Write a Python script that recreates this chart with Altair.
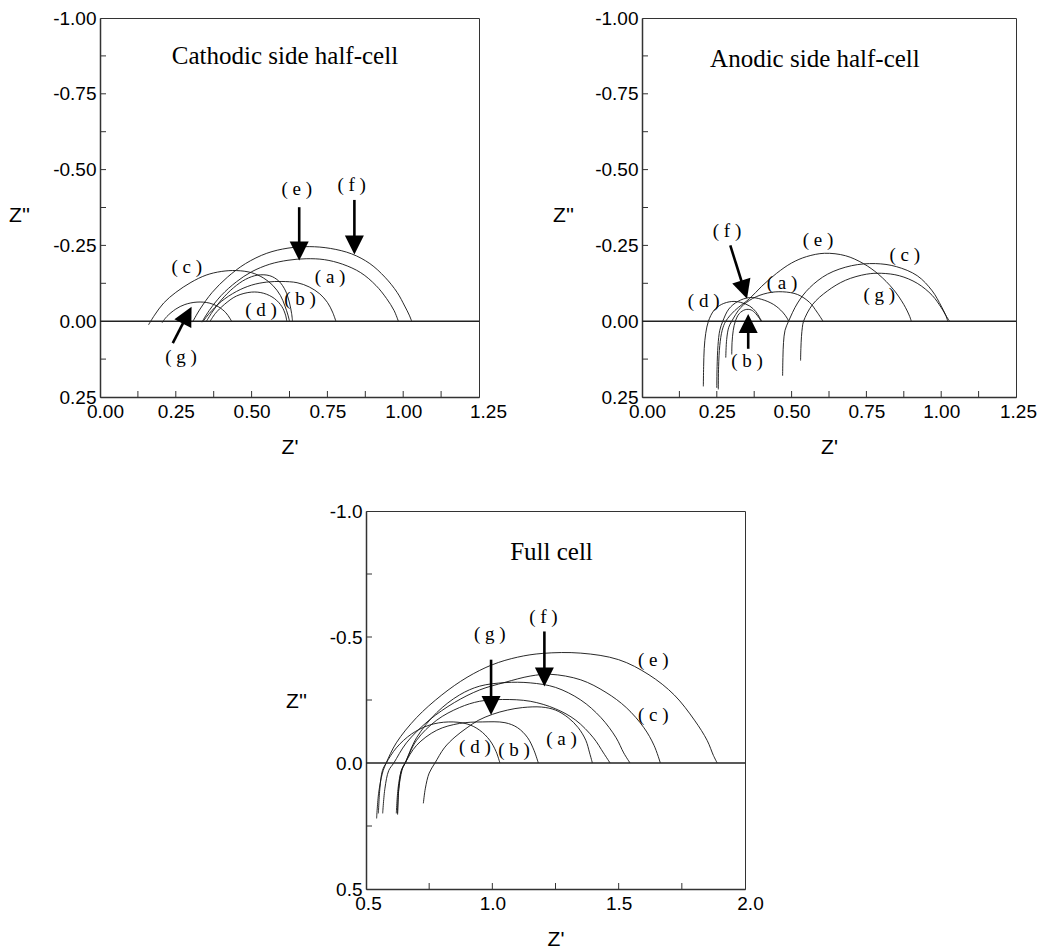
import math
import altair as alt
import pandas as pd

# ---------------- data ----------------
# Cathodic side half-cell  (Z', Z'')
cath_a = [(0.338, 0.003), (0.36, -0.025), (0.40, -0.065), (0.45, -0.098), (0.50, -0.119), (0.55, -0.129),
          (0.60, -0.131), (0.65, -0.127), (0.69, -0.113), (0.725, -0.090), (0.75, -0.062), (0.767, -0.030), (0.778, 0.0)]
cath_b = [(0.350, 0.002), (0.37, -0.030), (0.40, -0.070), (0.44, -0.110), (0.48, -0.138), (0.52, -0.152),
          (0.56, -0.150), (0.59, -0.132), (0.612, -0.100), (0.625, -0.060), (0.632, -0.025), (0.635, 0.0)]
cath_c = [(0.160, 0.012), (0.18, -0.020), (0.21, -0.060), (0.25, -0.095), (0.30, -0.128), (0.35, -0.152),
          (0.40, -0.164), (0.45, -0.167), (0.50, -0.160), (0.54, -0.142), (0.57, -0.118), (0.595, -0.085),
          (0.61, -0.050), (0.62, -0.020), (0.625, 0.0)]
cath_d = [(0.362, 0.002), (0.38, -0.025), (0.41, -0.055), (0.45, -0.083), (0.50, -0.096), (0.54, -0.092),
          (0.575, -0.075), (0.60, -0.048), (0.612, -0.020), (0.616, 0.0)]
cath_e = [(0.336, 0.003), (0.36, -0.035), (0.40, -0.085), (0.45, -0.130), (0.50, -0.163), (0.56, -0.188),
          (0.62, -0.201), (0.68, -0.206), (0.74, -0.203), (0.80, -0.188), (0.86, -0.160), (0.91, -0.118),
          (0.945, -0.075), (0.97, -0.035), (0.984, 0.0)]
cath_f = [(0.305, 0.003), (0.33, -0.040), (0.37, -0.095), (0.42, -0.145), (0.48, -0.190), (0.55, -0.224),
          (0.62, -0.241), (0.69, -0.246), (0.76, -0.240), (0.83, -0.222), (0.89, -0.190), (0.94, -0.145),
          (0.98, -0.095), (1.005, -0.050), (1.02, -0.020), (1.028, 0.0)]
cath_g = [(0.205, 0.005), (0.22, -0.015), (0.25, -0.040), (0.28, -0.055), (0.32, -0.063), (0.36, -0.060),
          (0.39, -0.048), (0.415, -0.028), (0.428, -0.010), (0.434, 0.0)]

cath_labels = [("( a )", 0.759, -0.145), ("( b )", 0.660, -0.074), ("( c )", 0.286, -0.178),
               ("( d )", 0.531, -0.038), ("( e )", 0.649, -0.437), ("( f )", 0.830, -0.448),
               ("( g )", 0.267, 0.119)]
cath_arrows = [(0.657, -0.376, 0.657, -0.200), (0.839, -0.400, 0.839, -0.220), (0.240, 0.072, 0.302, -0.048)]

# Anodic side half-cell
ano_a = [(0.280, 0.120), (0.283, 0.060), (0.29, 0.020), (0.30, 0.0), (0.33, -0.045), (0.37, -0.075),
         (0.42, -0.093), (0.47, -0.097), (0.52, -0.088), (0.56, -0.062), (0.585, -0.030), (0.605, 0.0)]
ano_b = [(0.300, 0.110), (0.301, 0.070), (0.305, 0.030), (0.312, 0.0), (0.325, -0.025), (0.345, -0.038),
         (0.365, -0.037), (0.380, -0.025), (0.392, -0.010), (0.398, 0.0)]
ano_c = [(0.470, 0.180), (0.471, 0.120), (0.473, 0.070), (0.478, 0.030), (0.49, 0.0), (0.52, -0.060),
         (0.56, -0.110), (0.62, -0.155), (0.70, -0.183), (0.78, -0.190), (0.85, -0.180), (0.92, -0.150),
         (0.97, -0.100), (1.00, -0.050), (1.015, -0.020), (1.022, 0.0)]
ano_d = [(0.205, 0.215), (0.206, 0.150), (0.208, 0.090), (0.213, 0.040), (0.222, 0.0), (0.24, -0.035),
         (0.265, -0.055), (0.30, -0.065), (0.33, -0.062), (0.36, -0.050), (0.38, -0.032), (0.393, -0.012), (0.40, 0.0)]
ano_e = [(0.255, 0.225), (0.256, 0.150), (0.26, 0.080), (0.268, 0.030), (0.28, 0.0), (0.31, -0.035),
         (0.36, -0.075), (0.40, -0.115), (0.45, -0.158), (0.50, -0.192), (0.55, -0.213), (0.61, -0.224),
         (0.68, -0.216), (0.74, -0.190), (0.79, -0.155), (0.84, -0.105), (0.875, -0.055), (0.895, -0.015), (0.90, 0.0)]
ano_f = [(0.250, 0.220), (0.251, 0.150), (0.254, 0.080), (0.26, 0.030), (0.27, 0.0), (0.29, -0.040),
         (0.32, -0.065), (0.36, -0.078), (0.40, -0.072), (0.44, -0.055), (0.47, -0.030), (0.485, -0.010), (0.49, 0.0)]
ano_g = [(0.530, 0.130), (0.531, 0.090), (0.533, 0.050), (0.536, 0.020), (0.54, 0.0), (0.57, -0.055),
         (0.62, -0.100), (0.68, -0.135), (0.75, -0.155), (0.80, -0.158), (0.86, -0.150), (0.92, -0.125),
         (0.97, -0.085), (1.00, -0.045), (1.018, -0.015), (1.028, 0.0)]

ano_labels = [("( a )", 0.468, -0.125), ("( b )", 0.351, 0.130), ("( c )", 0.878, -0.219),
              ("( d )", 0.206, -0.068), ("( e )", 0.588, -0.268), ("( f )", 0.284, -0.299),
              ("( g )", 0.793, -0.085)]
ano_arrows = [(0.295, -0.250, 0.351, -0.074), (0.355, 0.091, 0.355, -0.024)]

# Full cell
full_a = [(0.727, 0.160), (0.735, 0.100), (0.75, 0.040), (0.773, 0.0), (0.81, -0.060), (0.852, -0.103),
          (0.90, -0.140), (0.944, -0.169), (1.00, -0.193), (1.06, -0.210), (1.12, -0.220), (1.195, -0.222),
          (1.25, -0.210), (1.30, -0.180), (1.34, -0.140), (1.37, -0.090), (1.385, -0.040), (1.396, 0.0)]
full_b = [(0.625, 0.200), (0.63, 0.100), (0.64, 0.030), (0.655, 0.0), (0.70, -0.070), (0.78, -0.130),
          (0.87, -0.157), (0.96, -0.163), (1.05, -0.160), (1.10, -0.140), (1.14, -0.100), (1.165, -0.050), (1.182, 0.0)]
full_c = [(0.566, 0.200), (0.575, 0.100), (0.59, 0.030), (0.61, 0.0), (0.66, -0.080), (0.75, -0.170),
          (0.85, -0.240), (0.95, -0.290), (1.05, -0.320), (1.15, -0.345), (1.23, -0.352), (1.35, -0.330),
          (1.45, -0.280), (1.53, -0.220), (1.60, -0.140), (1.64, -0.070), (1.665, 0.0)]
full_d = [(0.549, 0.200), (0.555, 0.100), (0.565, 0.030), (0.58, 0.0), (0.62, -0.060), (0.68, -0.115),
          (0.75, -0.150), (0.826, -0.163), (0.90, -0.155), (0.95, -0.130), (0.99, -0.090), (1.015, -0.045), (1.03, 0.0)]
full_e = [(0.542, 0.220), (0.55, 0.120), (0.565, 0.040), (0.58, 0.0), (0.62, -0.080), (0.70, -0.180),
          (0.80, -0.270), (0.90, -0.340), (1.00, -0.390), (1.10, -0.420), (1.20, -0.435), (1.35, -0.436),
          (1.50, -0.410), (1.62, -0.350), (1.72, -0.270), (1.80, -0.170), (1.85, -0.090), (1.875, -0.030), (1.89, 0.0)]
full_f = [(0.625, 0.205), (0.63, 0.100), (0.645, 0.020), (0.655, 0.0), (0.70, -0.100), (0.78, -0.200),
          (0.87, -0.270), (0.95, -0.305), (1.05, -0.319), (1.15, -0.318), (1.25, -0.300), (1.35, -0.250),
          (1.43, -0.180), (1.49, -0.100), (1.52, -0.040), (1.545, 0.0)]
full_g = [(0.620, 0.200), (0.627, 0.100), (0.64, 0.030), (0.655, 0.0), (0.70, -0.090), (0.78, -0.170),
          (0.87, -0.220), (0.95, -0.245), (1.04, -0.252), (1.15, -0.245), (1.25, -0.215), (1.33, -0.170),
          (1.40, -0.100), (1.44, -0.040), (1.466, 0.0)]

full_labels = [("( a )", 1.274, -0.097), ("( b )", 1.086, -0.053), ("( c )", 1.637, -0.192),
               ("( d )", 0.931, -0.063), ("( e )", 1.637, -0.410), ("( f )", 1.202, -0.579),
               ("( g )", 0.990, -0.513)]
full_arrows = [(0.995, -0.410, 0.995, -0.190), (1.206, -0.522, 1.206, -0.304)]

# axes: label values and inward tick values
half_x_labels = [0.0, 0.25, 0.5, 0.75, 1.0, 1.25]
half_y_labels = [-1.0, -0.75, -0.5, -0.25, 0.0, 0.25]
half_x_ticks = [0.125, 0.25, 0.375, 0.5, 0.625, 0.75, 0.875, 1.0, 1.125]
half_y_ticks = [-0.875, -0.75, -0.625, -0.5, -0.375, -0.25, -0.125, 0.125]
full_x_labels = [0.5, 1.0, 1.5, 2.0]
full_y_labels = [-1.0, -0.5, 0.0, 0.5]
full_x_ticks = [0.75, 1.0, 1.25, 1.5, 1.75]
full_y_ticks = [-0.75, -0.5, -0.25, 0.25]

SANS = "Liberation Sans"
SERIF = "Liberation Serif"
INK = "#111111"
HEAD_PATH = "M0,0L-0.5,1L0.5,1Z"
HEAD_LEN = 19


def curves_df(curves):
    rows = []
    for name, pts in curves.items():
        for i, (x, y) in enumerate(pts):
            rows.append({"curve": name, "i": i, "x": x, "y": y})
    return pd.DataFrame(rows)


def label_expr(fmt):
    return ("datum.value < 0 ? '-' + format(-datum.value, '%s') : format(datum.value, '%s')"
            % (fmt, fmt))


def panel(curves, labels, arrows, title, title_xy, xdom, ydom, xlab, ylab, xt, yt, fmt,
          w, h, ytx, yty, first_off, last_off):
    x_label_offset = {
        "condition": [
            {"test": "datum.value <= %s" % (xdom[0] + 1e-9), "value": first_off},
            {"test": "datum.value >= %s" % (xdom[1] - 1e-9), "value": last_off},
        ],
        "value": 0,
    }
    X = alt.X("x:Q", scale=alt.Scale(domain=xdom, nice=False, zero=False),
              axis=alt.Axis(values=xlab, labelExpr=label_expr(fmt), ticks=False, tickSize=0, grid=False,
                            labelFont=SANS, labelFontSize=19, labelColor="black", labelPadding=5,
                            labelOffset=x_label_offset,
                            labelFlush=False, labelOverlap=False, domainColor="#333333", domainWidth=1.5,
                            title="Z'", titleFont=SANS, titleFontSize=21, titleFontWeight="normal",
                            titleColor="black", titleY=50, titleBaseline="middle"))
    Y = alt.Y("y:Q", scale=alt.Scale(domain=ydom, nice=False, zero=False, reverse=True),
              axis=alt.Axis(values=ylab, labelExpr=label_expr(fmt), ticks=False, tickSize=0, grid=False,
                            labelFont=SANS, labelFontSize=19, labelColor="black", labelPadding=4,
                            labelFlush=False, labelOverlap=False, domainColor="#333333", domainWidth=1.5,
                            title="Z''", titleFont=SANS, titleFontSize=21, titleFontWeight="normal",
                            titleColor="black", titleAngle=0, titleAlign="center",
                            titleBaseline="middle", titleX=ytx, titleY=yty))

    lines = alt.Chart(curves_df(curves)).mark_line(
        interpolate="catmull-rom", strokeWidth=0.9, color=INK
    ).encode(x=X, y=Y, detail="curve:N", order="i:Q")

    zero = alt.Chart(pd.DataFrame({"y": [0.0]})).mark_rule(
        color="#222222", strokeWidth=1.5).encode(y=Y)

    xt_layer = alt.Chart(pd.DataFrame({"x": xt})).mark_rule(color="#333333", strokeWidth=1).encode(
        x=X, y=alt.value(h), y2=alt.value(h - 6))
    yt_layer = alt.Chart(pd.DataFrame({"y": yt})).mark_rule(color="#333333", strokeWidth=1).encode(
        y=Y, x=alt.value(0), x2=alt.value(6))

    lab_df = pd.DataFrame(labels, columns=["t", "x", "y"])
    lab = alt.Chart(lab_df).mark_text(font=SERIF, fontSize=19, color="black",
                                      baseline="middle", align="center").encode(x=X, y=Y, text="t:N")

    ttl = alt.Chart(pd.DataFrame({"t": [title], "x": [title_xy[0]], "y": [title_xy[1]]})).mark_text(
        font=SERIF, fontSize=25, color="black", baseline="middle", align="center"
    ).encode(x=X, y=Y, text="t:N")

    # arrows: compute direction on screen from the panel's scale
    sx = w / (xdom[1] - xdom[0])
    sy = h / (ydom[1] - ydom[0])
    shafts, heads = [], []
    for (x0, y0, x1, y1) in arrows:
        dxp = (x1 - x0) * sx
        dyp = (y1 - y0) * sy  # screen y grows downward with data y
        L = math.hypot(dxp, dyp)
        ang = math.degrees(math.atan2(dxp, -dyp)) % 360
        f = max(0.0, (L - HEAD_LEN * 0.8) / L)
        shafts.append({"x": x0, "y": y0, "x2": x0 + (x1 - x0) * f, "y2": y0 + (y1 - y0) * f})
        heads.append({"x": x1, "y": y1, "angle": ang})
    shaft = alt.Chart(pd.DataFrame(shafts)).mark_rule(color="black", strokeWidth=2.6).encode(
        x=X, y=Y, x2="x2:Q", y2="y2:Q")
    head = alt.Chart(pd.DataFrame(heads)).mark_point(
        shape=HEAD_PATH, filled=True, color="black", opacity=1, size=(2 * HEAD_LEN) ** 2, strokeWidth=0
    ).encode(x=X, y=Y, angle=alt.Angle("angle:Q", scale=None))

    return alt.layer(lines, zero, xt_layer, yt_layer, lab, ttl, shaft, head).properties(width=w, height=h)


p1 = panel({"a": cath_a, "b": cath_b, "c": cath_c, "d": cath_d, "e": cath_e, "f": cath_f, "g": cath_g},
           cath_labels, cath_arrows, "Cathodic side half-cell", (0.61, -0.876),
           [0.0, 1.25], [-1.0, 0.25], half_x_labels, half_y_labels, half_x_ticks, half_y_ticks, ".2f",
           379, 379, -81, 197, 5, 9)
p2 = panel({"a": ano_a, "b": ano_b, "c": ano_c, "d": ano_d, "e": ano_e, "f": ano_f, "g": ano_g},
           ano_labels, ano_arrows, "Anodic side half-cell", (0.578, -0.865),
           [0.0, 1.25], [-1.0, 0.25], half_x_labels, half_y_labels, half_x_ticks, half_y_ticks, ".2f",
           374, 379, -79, 197, 5, 2)
p3 = panel({"a": full_a, "b": full_b, "c": full_c, "d": full_d, "e": full_e, "f": full_f, "g": full_g},
           full_labels, full_arrows, "Full cell", (1.234, -0.839),
           [0.5, 2.0], [-1.0, 0.5], full_x_labels, full_y_labels, full_x_ticks, full_y_ticks, ".1f",
           379, 378, -70, 190, 2, 5)

spacer = alt.Chart(pd.DataFrame({"s": [0]})).mark_point(opacity=0).encode(
    x=alt.X("s:Q", axis=None), y=alt.Y("s:Q", axis=None)
).properties(width=164, height=10, view=alt.ViewBackground(stroke="transparent"))

top = alt.hconcat(p1, p2, spacing=45).resolve_scale(x="independent", y="independent")
bottom = alt.hconcat(spacer, p3, spacing=20).resolve_scale(x="independent", y="independent")
chart = alt.vconcat(top, bottom, spacing=43).resolve_scale(
    x="independent", y="independent"
).properties(
    padding={"left": 0, "top": 0, "right": 0, "bottom": 2}, background="white"
).configure_view(stroke="#333333", strokeWidth=1)

chart.save("out.html", embed_options={"renderer": "svg", "actions": False})
